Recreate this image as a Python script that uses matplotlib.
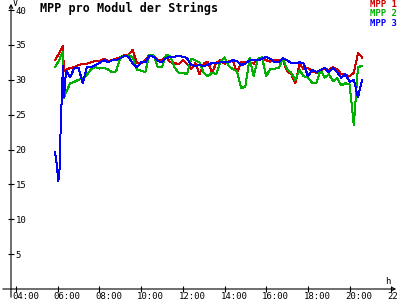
import matplotlib
matplotlib.use("Agg")
import matplotlib.pyplot as plt
import matplotlib.transforms as mtransforms

# ---- data (hours of day, volts) ----
hours_early = [5.87, 5.95, 6.03, 6.08, 6.12, 6.16, 6.20, 6.25, 6.30]
mpp1_early = [32.8, 33.2, 33.6, 33.9, 34.1, 34.3, 34.5, 34.8, 31.2]
mpp2_early = [31.8, 32.2, 32.6, 32.9, 33.2, 33.5, 33.8, 34.0, 27.4]
mpp3_early = [19.7, 18.0, 15.5, 16.5, 21.0, 24.5, 28.0, 32.0, 27.5]

hours_main = [6.4, 6.6, 6.8, 7.0, 7.2, 7.4, 7.6, 7.8, 8.0, 8.2, 8.4, 8.6, 8.8, 9.0,
              9.2, 9.4, 9.6, 9.8, 10.0, 10.2, 10.4, 10.6, 10.8, 11.0, 11.2, 11.4,
              11.6, 11.8, 12.0, 12.2, 12.4, 12.6, 12.8, 13.0, 13.2, 13.4, 13.6, 13.8,
              14.0, 14.2, 14.4, 14.6, 14.8, 15.0, 15.2, 15.4, 15.6, 15.8, 16.0, 16.2,
              16.4, 16.6, 16.8, 17.0, 17.2, 17.4, 17.6, 17.8, 18.0, 18.2, 18.4, 18.6,
              18.8, 19.0, 19.2, 19.4, 19.6, 19.8, 20.0, 20.2, 20.4, 20.6]
mpp1_main = [31.4, 31.7, 31.8, 32.1, 32.3, 32.3, 32.5, 32.7, 32.6, 33.0, 32.7, 32.8, 33.0, 33.2,
             33.5, 33.6, 34.3, 32.4, 32.4, 32.8, 33.6, 33.4, 32.8, 32.8, 33.3, 32.5,
             32.4, 32.2, 32.8, 32.3, 31.5, 32.4, 30.8, 32.3, 32.6, 31.0, 32.4, 32.8,
             32.3, 32.6, 32.8, 31.0, 32.5, 32.6, 32.5, 32.3, 33.0, 33.2, 32.8, 32.6,
             32.8, 32.9, 32.8, 31.2, 30.8, 29.5, 32.3, 31.5, 31.7, 31.2, 31.0, 31.2,
             31.7, 31.4, 31.8, 31.5, 30.8, 30.7, 30.5, 31.0, 33.8, 33.2]
mpp2_main = [28.2, 29.5, 29.7, 30.0, 30.2, 30.7, 31.5, 31.8, 31.6, 31.7, 31.5, 31.1, 31.2, 33.2,
             33.4, 33.5, 33.2, 31.4, 31.3, 31.1, 33.6, 33.5, 31.8, 31.8, 33.6, 33.4,
             31.8, 31.0, 31.0, 30.8, 33.0, 32.8, 32.5, 31.0, 30.5, 31.0, 30.8, 32.5,
             33.2, 32.0, 31.5, 31.2, 28.8, 29.0, 33.1, 30.5, 33.0, 33.2, 30.5, 31.6,
             31.6, 31.7, 33.0, 31.5, 31.0, 30.0, 31.4, 30.5, 30.3, 29.6, 29.5, 31.4,
             30.3, 30.8, 29.8, 30.2, 29.2, 29.5, 29.3, 23.5, 31.8, 32.0]
mpp3_main = [31.3, 30.4, 31.7, 31.7, 29.5, 31.8, 31.8, 32.1, 32.4, 32.8, 32.5, 32.8, 32.8, 33.1,
             33.4, 33.3, 32.3, 31.8, 32.5, 32.5, 33.4, 33.3, 32.7, 32.5, 33.1, 33.3,
             33.3, 33.4, 33.3, 33.1, 32.1, 32.0, 32.1, 32.0, 32.1, 32.4, 32.4, 32.5,
             32.5, 32.5, 32.8, 32.7, 32.1, 32.3, 32.8, 32.8, 32.8, 33.0, 33.3, 33.0,
             32.5, 32.5, 33.1, 32.8, 32.4, 32.4, 32.5, 32.3, 30.5, 31.4, 31.1, 31.4,
             31.7, 31.1, 31.7, 31.1, 30.3, 30.8, 29.7, 30.0, 27.5, 30.0]

series_names = ["MPP 1", "MPP 2", "MPP 3"]
series_colors = ["#cc0000", "#00b000", "#0000ff"]
x_ticks = [4, 6, 8, 10, 12, 14, 16, 18, 20, 22]
x_tick_labels = ["04:00", "06:00", "08:00", "10:00", "12:00", "14:00", "16:00", "18:00", "20:00", "22:00"]
y_ticks = [5, 10, 15, 20, 25, 30, 35, 40]
title = "MPP pro Modul der Strings"

# ---- figure ----
W, H = 400, 300
fig = plt.figure(figsize=(W / 100, H / 100), dpi=100)
fig.patch.set_facecolor("white")
mono = "DejaVu Sans Mono"

ax_left, ax_bottom = 11, 11
ax = fig.add_axes([ax_left / W, ax_bottom / H, 387 / W, 279 / H])
ax.set_xlim(3.76, 22.32)
ax.set_ylim(0, 40)
for s in ax.spines.values():
    s.set_visible(False)
ax.patch.set_alpha(0)

hours = hours_early + hours_main
vals = [mpp1_early + mpp1_main, mpp2_early + mpp2_main, mpp3_early + mpp3_main]
for v, c, n in zip(vals, series_colors, series_names):
    ax.plot(hours, v, color=c, lw=0.72, antialiased=False, label=n)

ax.set_xticks(x_ticks)
ax.set_xticklabels(x_tick_labels, fontfamily=mono, fontsize=6.5)
ax.set_yticks(y_ticks)
ax.set_yticklabels([str(t) for t in y_ticks], fontfamily=mono, fontsize=6.5)
ax.tick_params(axis="both", direction="inout", length=4.5, width=0.8, color="black")
ax.tick_params(axis="y", pad=-5.5)
ax.tick_params(axis="x", pad=0)
for lab in ax.get_yticklabels():
    lab.set_ha("left")
offset = mtransforms.ScaledTranslation(-4 / 100, 0, fig.dpi_scale_trans)
for lab in ax.get_xticklabels():
    lab.set_ha("left")
    lab.set_transform(lab.get_transform() + offset)

# axis lines with arrows
ax.annotate("", xy=(399, ax_bottom), xytext=(0, ax_bottom), xycoords="figure pixels",
            textcoords="figure pixels",
            arrowprops=dict(arrowstyle="->", lw=0.8, color="black", mutation_scale=6))
ax.annotate("", xy=(ax_left, 299), xytext=(ax_left, 0), xycoords="figure pixels",
            textcoords="figure pixels",
            arrowprops=dict(arrowstyle="->", lw=0.8, color="black", mutation_scale=6))

fig.text(13 / W, 1 - 3 / H, "V", fontfamily=mono, fontsize=6, va="center", ha="left")
fig.text(385 / W, 1 - 281 / H, "h", fontfamily=mono, fontsize=6.5, va="center", ha="left")
fig.text(40 / W, 1 - 8 / H, title, fontfamily=mono, fontsize=8.5, fontweight="bold",
         va="center", ha="left")

leg = ax.legend(loc="upper right", bbox_to_anchor=(397 / W, 1 - 0 / H),
                bbox_transform=fig.transFigure, frameon=False, handlelength=0,
                handletextpad=0, labelspacing=0.05, borderpad=0, borderaxespad=0,
                prop={"family": mono, "size": 6.5, "weight": "bold"})
for txt, c, h in zip(leg.get_texts(), series_colors, leg.legend_handles):
    txt.set_color(c)
    h.set_visible(False)

fig.savefig("out.png", dpi=100)
